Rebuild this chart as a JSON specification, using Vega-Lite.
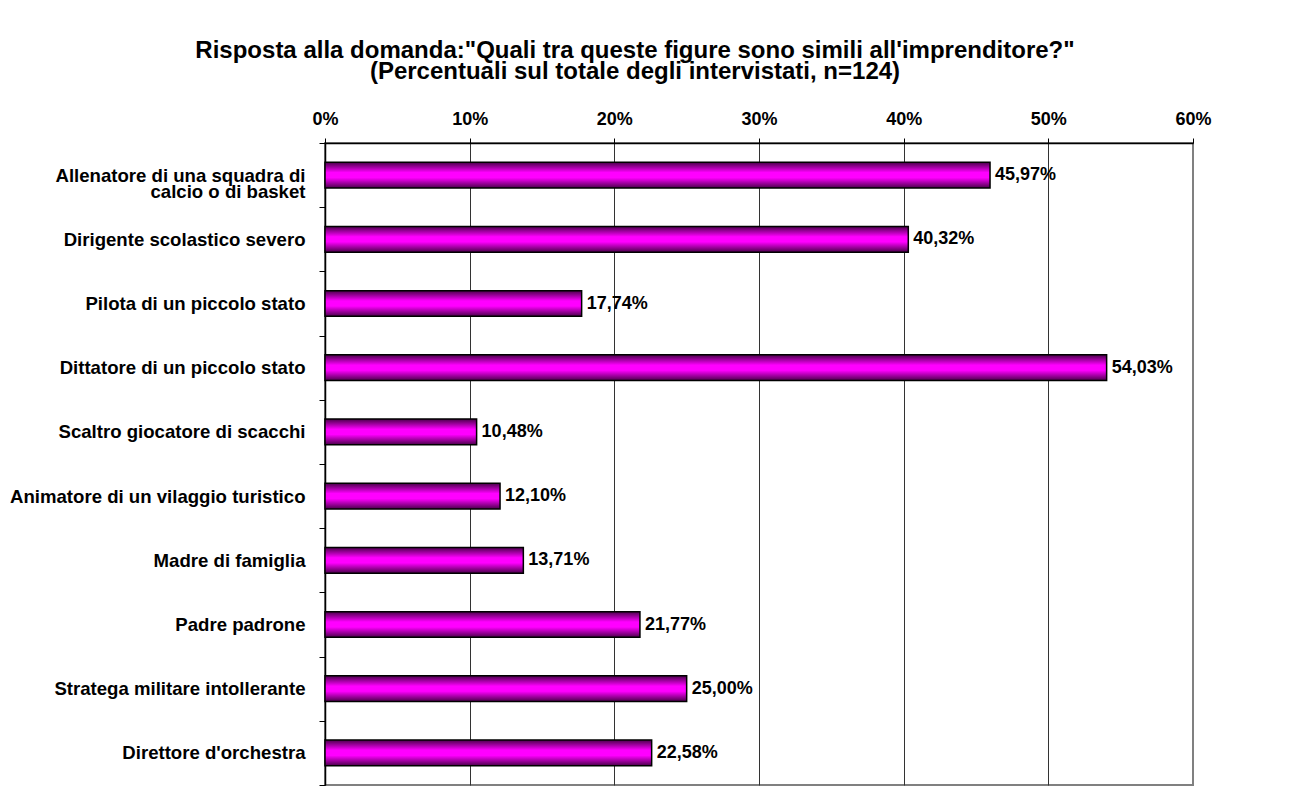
{
  "$schema": "https://vega.github.io/schema/vega-lite/v6.json",
  "autosize": {"type": "none"},
  "padding": {"left": 325, "top": 143, "right": 97, "bottom": 13},
  "width": 868,
  "height": 642,
  "background": "white",
  "title": {
    "text": ["Risposta alla domanda:\"Quali tra queste figure sono simili all'imprenditore?\"", "(Percentuali sul totale degli intervistati, n=124)"],
    "font": "Liberation Sans",
    "fontSize": 24,
    "fontWeight": "bold",
    "color": "black",
    "lineHeight": 21,
    "anchor": "middle",
    "frame": "group",
    "dx": -124,
    "offset": 26
  },
  "data": {
    "values": [
      {"figura": "Allenatore di una squadra di\n calcio o di basket", "valore": 0.4597},
      {"figura": "Dirigente scolastico severo", "valore": 0.4032},
      {"figura": "Pilota di un piccolo stato", "valore": 0.1774},
      {"figura": "Dittatore di un piccolo stato", "valore": 0.5403},
      {"figura": "Scaltro giocatore di scacchi", "valore": 0.1048},
      {"figura": "Animatore di un vilaggio turistico", "valore": 0.1210},
      {"figura": "Madre di famiglia", "valore": 0.1371},
      {"figura": "Padre padrone", "valore": 0.2177},
      {"figura": "Stratega militare intollerante", "valore": 0.2500},
      {"figura": "Direttore d'orchestra", "valore": 0.2258}
    ]
  },
  "encoding": {
    "y": {
      "field": "figura",
      "type": "nominal",
      "sort": null,
      "scale": {"paddingInner": 0, "paddingOuter": 0},
      "axis": {
        "title": null,
        "tickBand": "extent",
        "tickSize": 6,
        "tickColor": "black",
        "tickWidth": 1,
        "domainColor": "black",
        "domainWidth": 1.5,
        "labelFont": "Liberation Sans",
        "labelFontSize": 18.6,
        "labelFontWeight": "bold",
        "labelColor": "black",
        "labelPadding": 14,
        "labelLimit": 400,
        "labelLineHeight": 16,
        "labelExpr": "split(datum.label, '\\n')",
        "grid": false,
        "encode": {
          "labels": {
            "dx": {
              "condition": [
                {"test": "indexof(datum.value, 'Allenatore') == 0", "value": -249},
                {"test": "indexof(datum.value, 'Dirigente') == 0", "value": -8},
                {"test": "indexof(datum.value, 'Pilota') == 0", "value": -7},
                {"test": "indexof(datum.value, 'Direttore') == 0", "value": -18}
              ],
              "value": 0
            },
            "align": {
              "condition": {"test": "indexof(datum.value, 'Allenatore') == 0", "value": "left"},
              "value": "right"
            }
          }
        }
      }
    },
    "x": {
      "field": "valore",
      "type": "quantitative",
      "scale": {"domain": [0, 0.6], "nice": false},
      "axis": {
        "orient": "top",
        "title": null,
        "format": ".0%",
        "values": [0, 0.1, 0.2, 0.3, 0.4, 0.5, 0.6],
        "labelFlush": false,
        "tickSize": 5,
        "tickColor": "black",
        "domainColor": "black",
        "domainWidth": 1.5,
        "labelFont": "Liberation Sans",
        "labelFontSize": 18,
        "labelFontWeight": "bold",
        "labelColor": "black",
        "labelPadding": 10,
        "grid": true,
        "gridColor": {"condition": {"test": "datum.value >= 0.6", "value": "#808080"}, "value": "#333333"},
        "gridWidth": 1
      }
    }
  },
  "layer": [
    {
      "mark": {
        "type": "bar",
        "height": {"band": 0.4},
        "stroke": "black",
        "strokeWidth": 1.5,
        "color": {
          "gradient": "linear",
          "x1": 0, "y1": 0, "x2": 0, "y2": 1,
          "stops": [
            {"offset": 0, "color": "#4a004a"},
            {"offset": 0.4, "color": "#ff00ff"},
            {"offset": 0.6, "color": "#ff00ff"},
            {"offset": 1, "color": "#4a004a"}
          ]
        }
      }
    },
    {
      "mark": {
        "type": "text",
        "align": "left",
        "baseline": "middle",
        "dx": 5,
        "font": "Liberation Sans",
        "fontSize": 18,
        "fontWeight": "bold",
        "color": "black"
      },
      "encoding": {
        "text": {"field": "valore", "type": "quantitative", "format": ".2%"}
      }
    }
  ],
  "config": {
    "locale": {
      "number": {"decimal": ",", "thousands": ".", "grouping": [3], "currency": ["€", ""]}
    },
    "view": {"stroke": "#808080", "strokeWidth": 2}
  }
}
